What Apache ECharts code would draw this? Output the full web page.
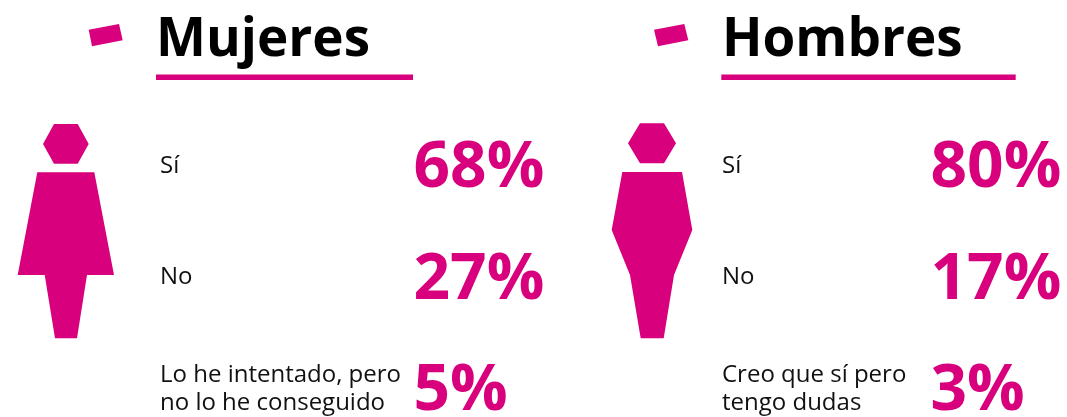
<!DOCTYPE html>
<html><head><meta charset="utf-8">
<style>html,body{margin:0;padding:0;background:#fff}#c{width:1067px;height:417px}</style>
<script src="https://cdn.jsdelivr.net/npm/echarts@6/dist/echarts.min.js"></script>
</head><body><div id="c"></div>
<script>
const titles = ['Mujeres', 'Hombres'];
const womenLabels = ['Sí', 'No', 'Lo he intentado, pero\nno lo he conseguido'];
const womenValues = [68, 27, 5];
const menLabels = ['Sí', 'No', 'Creo que sí pero\ntengo dudas'];
const menValues = [80, 17, 3];

const PINK = '#d8007c', FONT = '"Open Sans", sans-serif';
const chart = echarts.init(document.getElementById('c'), null, {renderer: 'canvas'});

function poly(points, fill) { return {type: 'polygon', shape: {points}, style: {fill: fill || PINK}, silent: true}; }
function rect(x, y, width, height) { return {type: 'rect', shape: {x, y, width, height}, style: {fill: PINK}, silent: true}; }

const panels = [
  {labels: womenLabels, values: womenValues, numLeft: 413, labelLeft: 160},
  {labels: menLabels, values: menValues, numLeft: 930, labelLeft: 722}
];

chart.setOption({
  animation: false,
  backgroundColor: '#fff',
  title: titles.map((t, i) => ({
    text: t, left: [156, 722][i], top: 5, padding: 0,
    textStyle: {fontFamily: FONT, fontWeight: 'bold', fontSize: 53, color: '#000', lineHeight: 72}
  })),
  grid: panels.map(p => ({left: p.numLeft, width: 100, top: 110, height: 335, outerBoundsMode: 'none', containLabel: false})),
  xAxis: panels.map((p, i) => ({gridIndex: i, type: 'value', min: 0, max: 1, show: false})),
  yAxis: panels.map((p, i) => ({
    gridIndex: i, type: 'category', inverse: true, data: p.labels,
    axisLine: {show: false}, axisTick: {show: false}, splitLine: {show: false},
    axisLabel: {show: true, interval: 0, align: 'left', margin: p.numLeft - p.labelLeft,
      fontFamily: FONT, fontSize: 24, color: '#111', lineHeight: 28}
  })),
  series: panels.map((p, i) => ({
    type: 'scatter', xAxisIndex: i, yAxisIndex: i, symbolSize: 1, clip: false,
    itemStyle: {color: 'transparent', opacity: 1},
    data: p.values.map((v, k) => [0, k, v]),
    label: {show: true, position: 'right', distance: 0, offset: [0, 3], formatter: o => o.value[2] + '%', opacity: 1,
      fontFamily: FONT, fontWeight: 'bold', fontSize: 64, color: PINK}
  })),
  graphic: [
    poly([[88.7,29.7],[119,24],[122.7,40.3],[92,46.3]]),
    rect(156, 74.5, 257, 5.5),
    poly([[43,144],[54,124],[77.7,124],[88.7,144],[77.7,163.7],[54,163.7]]),
    poly([[37.3,172.3],[94.3,172.3],[114,275],[87,275],[77,338.3],[55,338.3],[44.7,275],[17.7,275]]),
    poly([[654,29.7],[684.3,24],[688.3,40.3],[658,46.3]]),
    rect(721.3, 74.5, 294.4, 5.5),
    poly([[628,143.3],[640,123.3],[664,123.3],[676,143.3],[664,163.3],[640,163.3]]),
    poly([[622.3,172],[682,172],[692.3,230],[674,275],[663.7,338.3],[640.7,338.3],[630,275],[611.7,230]])
  ]
});
</script></body></html>
